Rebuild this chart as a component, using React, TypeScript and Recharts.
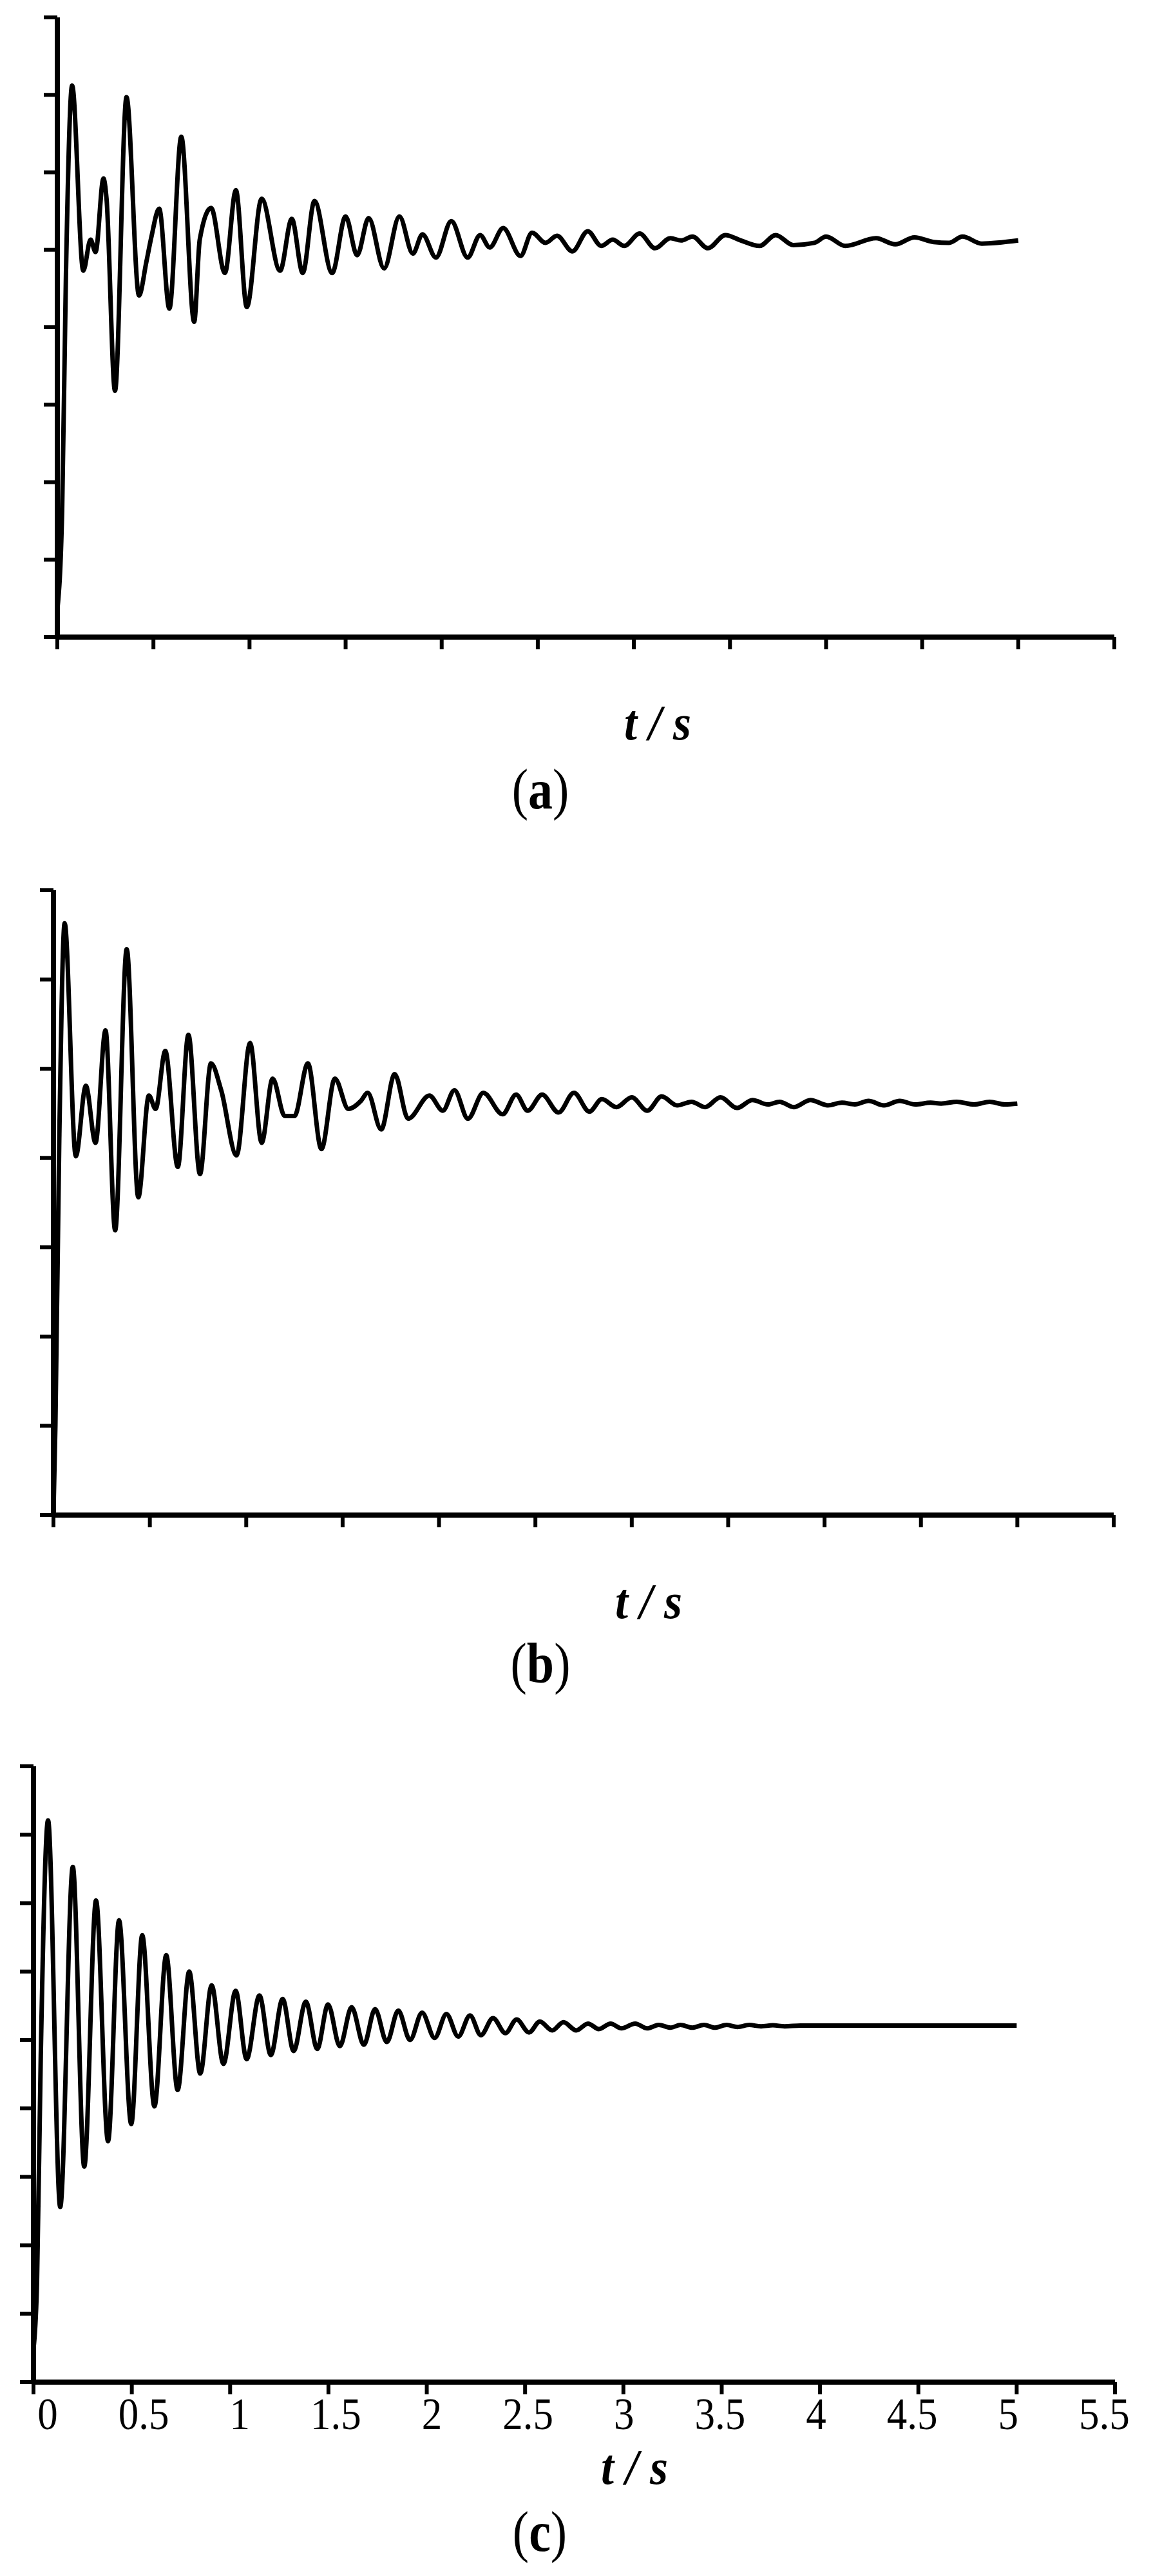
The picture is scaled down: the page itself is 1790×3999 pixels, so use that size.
import { Line, LineChart, XAxis, YAxis } from "recharts";

// time (s) and response values
const timeA = [
    0, 0.025, 0.045, 0.077, 0.135, 0.173, 0.199, 0.24, 0.256, 0.3, 0.36, 0.425, 0.463, 0.489, 0.53,
    0.583, 0.645, 0.712, 0.741, 0.8, 0.872, 0.929, 0.986, 1.063, 1.159, 1.22, 1.277, 1.338, 1.43,
    1.5, 1.56, 1.62, 1.7, 1.78, 1.85, 1.9, 1.97, 2.05, 2.135, 2.2, 2.25, 2.32, 2.41, 2.47, 2.54,
    2.6, 2.68, 2.76, 2.83, 2.89, 2.95, 3.03, 3.11, 3.19, 3.245, 3.305, 3.385, 3.476, 3.557, 3.654,
    3.738, 3.83, 3.94, 4.0, 4.1, 4.26, 4.36, 4.46, 4.56, 4.64, 4.71, 4.81, 5.0,
];
const valueA = [
    0.35, 1.63, 4.7, 7.12, 4.73, 5.13, 4.97, 5.92, 5.66, 3.18, 6.97, 4.41, 4.84, 5.16, 5.53,
    4.24, 6.46, 4.07, 5.13, 5.54, 4.7, 5.77, 4.26, 5.66, 4.73, 5.4, 4.7, 5.63, 4.7,
    5.43, 4.93, 5.41, 4.76, 5.43, 4.95, 5.2, 4.9, 5.37, 4.9, 5.19, 5.03, 5.28, 4.92, 5.22, 5.09,
    5.18, 4.98, 5.24, 5.05, 5.13, 5.05, 5.21, 5.02, 5.15, 5.12, 5.17, 5.02, 5.19, 5.12, 5.05,
    5.19, 5.06, 5.09, 5.17, 5.05, 5.15, 5.07, 5.16, 5.1, 5.09, 5.17, 5.08, 5.12,
];

const timeB = [
    0, 0.01, 0.03, 0.058, 0.116, 0.168, 0.218, 0.27, 0.32, 0.38, 0.44, 0.495, 0.53, 0.58, 0.645,
    0.7, 0.76, 0.817, 0.87, 0.95, 1.02, 1.08, 1.137, 1.2, 1.25, 1.32, 1.39, 1.46, 1.53, 1.595,
    1.63, 1.7, 1.77, 1.84, 1.95, 2.02, 2.08, 2.15, 2.23, 2.33, 2.4, 2.46, 2.535, 2.62, 2.7, 2.78,
    2.845, 2.92, 3.0, 3.08, 3.155, 3.235, 3.31, 3.38, 3.46, 3.546, 3.626, 3.706, 3.767, 3.84,
    3.927, 4.017, 4.09, 4.157, 4.228, 4.308, 4.39, 4.47, 4.55, 4.605, 4.686, 4.776, 4.856,
    4.936, 5.0,
];
const valueB = [
    0, 1.0, 4.19, 6.63, 4.02, 4.81, 4.17, 5.43, 3.19, 6.34, 3.56, 4.7, 4.55, 5.2, 3.9,
    5.38, 3.82, 5.06, 4.76, 4.03, 5.29, 4.17, 4.89, 4.47, 4.47, 5.06, 4.1, 4.89, 4.55, 4.64,
    4.73, 4.32, 4.94, 4.44, 4.7, 4.53, 4.76, 4.44, 4.73, 4.49, 4.71, 4.53, 4.71, 4.51, 4.73, 4.52,
    4.66, 4.57, 4.68, 4.53, 4.69, 4.59, 4.63, 4.57, 4.68, 4.56, 4.65, 4.6, 4.63, 4.57,
    4.65, 4.59, 4.62, 4.6, 4.64, 4.59, 4.64, 4.6, 4.62, 4.61, 4.63, 4.6, 4.63,
    4.6, 4.61,
];

const timeC = [
    0, 0.018, 0.037, 0.074, 0.136, 0.2, 0.258, 0.318, 0.379, 0.435, 0.497, 0.553, 0.615, 0.675,
    0.733, 0.792, 0.848, 0.906, 0.966, 1.028, 1.084, 1.149, 1.207, 1.267, 1.323, 1.385, 1.443,
    1.498, 1.558, 1.618, 1.68, 1.737, 1.797, 1.855, 1.915, 1.976, 2.04, 2.1, 2.16, 2.22, 2.275,
    2.337, 2.4, 2.457, 2.52, 2.575, 2.638, 2.695, 2.76, 2.82, 2.875, 2.935, 2.99, 3.06, 3.12,
    3.18, 3.24, 3.29, 3.35, 3.41, 3.465, 3.525, 3.58, 3.64, 3.7, 3.76, 3.82, 3.9, 5.0,
];
const valueC = [
    0.48, 1.47, 4.77, 8.21, 2.56, 7.53, 3.15, 7.04, 3.52, 6.75, 3.77, 6.53, 4.03, 6.24,
    4.27, 6.0, 4.51, 5.8, 4.65, 5.72, 4.72, 5.65, 4.78, 5.6, 4.84, 5.56, 4.87,
    5.52, 4.91, 5.48, 4.93, 5.45, 4.97, 5.43, 5.0, 5.4, 5.03, 5.38, 5.05, 5.36, 5.07,
    5.32, 5.1, 5.3, 5.11, 5.27, 5.14, 5.26, 5.14, 5.24, 5.16, 5.24, 5.17, 5.24, 5.17,
    5.22, 5.18, 5.22, 5.18, 5.22, 5.18, 5.22, 5.19, 5.22, 5.2, 5.215, 5.2, 5.21, 5.21,
];

const xTicks = [0, 0.5, 1, 1.5, 2, 2.5, 3, 3.5, 4, 4.5, 5, 5.5];
const yTicksA = [0, 1, 2, 3, 4, 5, 6, 7, 8];
const yTicksB = [0, 1, 2, 3, 4, 5, 6, 7];
const yTicksC = [0, 1, 2, 3, 4, 5, 6, 7, 8, 9];

const SERIF = "'Liberation Serif', 'Times New Roman', serif";

const toRows = (times: number[], values: number[]) =>
    times.map((t, i) => ({ t, v: values[i] }));

const TimeTick = ({ x, y, payload }: any) => {
    // labels drift slightly left of their ticks towards the right end
    const dx = 22 - 7 * payload.value;
    return (
        <g transform={`translate(${x + dx},${y + 52}) scale(1,1.1)`}>
            <text
                x={0}
                y={0}
                textAnchor="middle"
                fontFamily={SERIF}
                fontSize={63}
                fill="#000"
                stroke="none"
            >
                {payload.value}
            </text>
        </g>
    );
};

const NoLabel = () => <g />;

interface PanelProps {
    top: number;
    height: number;
    plotTop: number;
    plotLeft: number;
    plotRight: number;
    plotBottom: number;
    rows: { t: number; v: number }[];
    yTicks: number[];
    showLabels?: boolean;
}

function Panel({ top, height, plotTop, plotLeft, plotRight, plotBottom, rows, yTicks, showLabels }: PanelProps) {
    return (
        <div style={{ position: "absolute", left: 0, top, width: 1790, height }}>
            <LineChart
                width={1790}
                height={height}
                data={rows}
                margin={{ top: plotTop, right: 1790 - plotRight, bottom: 0, left: 0 }}
            >
                <XAxis
                    dataKey="t"
                    type="number"
                    domain={[0, 5.5]}
                    ticks={xTicks}
                    interval={0}
                    height={height - plotBottom}
                    tickSize={19}
                    stroke="#000"
                    strokeWidth={8}
                    axisLine={{ stroke: "#000", strokeWidth: 8 }}
                    tickLine={{ stroke: "#000", strokeWidth: 6 }}
                    tick={showLabels ? <TimeTick /> : <NoLabel />}
                />
                <YAxis
                    type="number"
                    domain={[0, yTicks[yTicks.length - 1]]}
                    ticks={yTicks}
                    interval={0}
                    width={plotLeft}
                    tickSize={21}
                    stroke="#000"
                    strokeWidth={8}
                    axisLine={{ stroke: "#000", strokeWidth: 8 }}
                    tickLine={{ stroke: "#000", strokeWidth: 6 }}
                    tick={<NoLabel />}
                />
                <Line
                    type="monotone"
                    dataKey="v"
                    stroke="#000"
                    strokeWidth={7}
                    strokeLinejoin="round"
                    dot={false}
                    activeDot={false}
                    isAnimationActive={false}
                />
            </LineChart>
        </div>
    );
}

const Caption = ({ x, y, letter }: { x: number; y: number; letter: string }) => (
    <g transform={`translate(${x},${y}) scale(1,1.18)`}>
        <text x={0} y={0} textAnchor="middle" fontFamily={SERIF} fontSize={76} fill="#000">
            (<tspan fontWeight="bold">{letter}</tspan>)
        </text>
    </g>
);

const AxisTitle = ({ x, y }: { x: number; y: number }) => (
    <g transform={`translate(${x},${y}) scale(1,1.08)`}>
        <text
            x={0}
            y={0}
            textAnchor="middle"
            fontFamily={SERIF}
            fontSize={72}
            fontStyle="italic"
            fontWeight="bold"
            fill="#000"
            style={{ whiteSpace: "pre" }}
        >
            {"t / s"}
        </text>
    </g>
);

export default function App() {
    return (
        <div
            style={{
                position: "absolute",
                left: 0,
                top: 0,
                width: 1790,
                height: 3999,
                background: "#fff",
                overflow: "hidden",
            }}
        >
            <Panel
                top={0}
                height={1050}
                plotTop={27}
                plotLeft={89}
                plotRight={1730}
                plotBottom={989}
                rows={toRows(timeA, valueA)}
                yTicks={yTicksA}
            />
            <Panel
                top={1350}
                height={1050}
                plotTop={32}
                plotLeft={83}
                plotRight={1729}
                plotBottom={1002}
                rows={toRows(timeB, valueB)}
                yTicks={yTicksB}
            />
            <Panel
                top={2700}
                height={1150}
                plotTop={42}
                plotLeft={52}
                plotRight={1731}
                plotBottom={998}
                rows={toRows(timeC, valueC)}
                yTicks={yTicksC}
                showLabels
            />
            <svg
                width={1790}
                height={3999}
                style={{ position: "absolute", left: 0, top: 0, pointerEvents: "none" }}
            >
                <AxisTitle x={1021} y={1148} />
                <Caption x={839} y={1255} letter="a" />
                <AxisTitle x={1007} y={2512} />
                <Caption x={839} y={2612} letter="b" />
                <AxisTitle x={985} y={3856} />
                <Caption x={838} y={3960} letter="c" />
            </svg>
        </div>
    );
}
